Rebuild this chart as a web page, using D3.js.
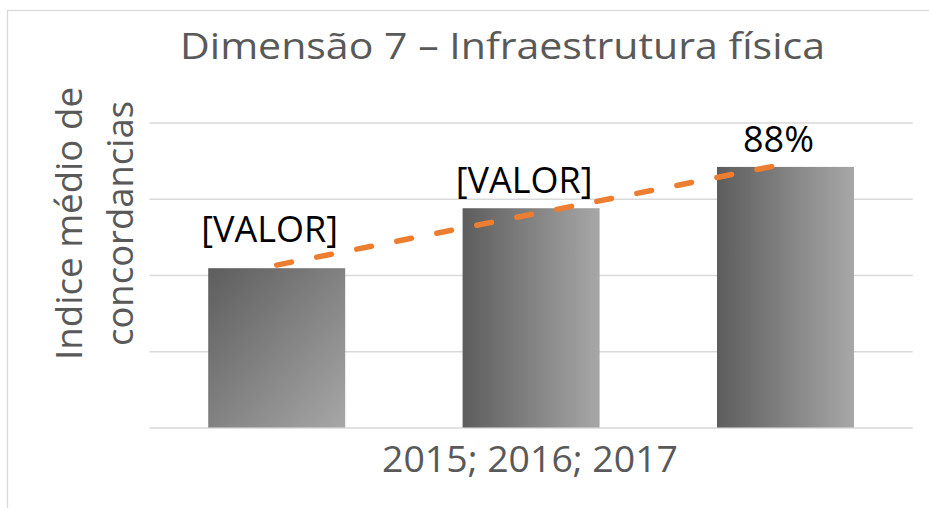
<!DOCTYPE html>
<html>
<head>
<meta charset="utf-8">
<script src="https://cdn.jsdelivr.net/npm/d3@7"></script>
<style>
  html, body { margin: 0; padding: 0; background: #fff; }
  svg { display: block; }
  text { font-family: "Open Sans", "Noto Sans", sans-serif; }
</style>
</head>
<body>
<svg id="chart" width="929" height="508"></svg>
<script>
// ---- data ----
const categories = ["2015", "2016", "2017"];
const values = [0.538, 0.7405, 0.88];
const valueLabels = ["[VALOR]", "[VALOR]", "88%"];
const gridTicks = [0, 0.2575, 0.515, 0.7725, 1.03];
const titleText = "Dimensão 7 – Infraestrutura física";
const yTitleLines = ["Indice médio de", "concordancias"];
const xTitleText = "2015; 2016; 2017";

// ---- styling / layout (not data) ----
const barFillStyles = ["diag", "horiz", "horiz"];
const labelGaps = [26.6, 15, 14.5];
const W = 929, H = 508;
const plot = { left: 149.5, right: 912.7, top: 122.5, bottom: 427.5 };
const gridColor = "#d9d9d9";
const textGray = "#595959";

const svg = d3.select("#chart");

// chart border
svg.append("rect")
  .attr("x", 7.5).attr("y", 10.5)
  .attr("width", W + 20).attr("height", H + 20)
  .attr("fill", "#fff").attr("stroke", gridColor).attr("stroke-width", 1.3);

// gradients
const defs = svg.append("defs");
const gDiag = defs.append("linearGradient").attr("id", "diag")
  .attr("x1", 0).attr("y1", 0).attr("x2", 1).attr("y2", 1);
gDiag.append("stop").attr("offset", 0).attr("stop-color", "#5d5d5d");
gDiag.append("stop").attr("offset", 1).attr("stop-color", "#a7a7a7");
const gH = defs.append("linearGradient").attr("id", "horiz")
  .attr("x1", 0).attr("y1", 0).attr("x2", 1).attr("y2", 0);
gH.append("stop").attr("offset", 0).attr("stop-color", "#5d5d5d");
gH.append("stop").attr("offset", 1).attr("stop-color", "#a7a7a7");

// scales
const x = d3.scaleBand()
  .domain(categories)
  .range([plot.left, plot.right])
  .paddingInner(0.4615)
  .paddingOuter(0.23075);
const y = d3.scaleLinear()
  .domain([gridTicks[0], gridTicks[gridTicks.length - 1]])
  .range([plot.bottom, plot.top]);

// gridlines via axis
const yAxis = d3.axisLeft(y)
  .tickValues(gridTicks)
  .tickSize(-(plot.right - plot.left))
  .tickFormat("");
const gy = svg.append("g")
  .attr("transform", `translate(${plot.left},0)`)
  .call(yAxis);
gy.select(".domain").remove();
gy.selectAll(".tick line")
  .attr("stroke", gridColor).attr("stroke-width", 1.4);

// bars
svg.append("g").selectAll("rect")
  .data(values)
  .join("rect")
  .attr("x", (d, i) => x(categories[i]))
  .attr("y", d => y(d))
  .attr("width", x.bandwidth())
  .attr("height", d => y(0) - y(d))
  .attr("fill", (d, i) => `url(#${barFillStyles[i]})`);

// trendline (linear regression over the series)
const n = values.length;
const xs = d3.range(n);
const mx = d3.mean(xs), my = d3.mean(values);
const slope = d3.sum(xs, (v, i) => (v - mx) * (values[i] - my)) / d3.sum(xs, v => (v - mx) ** 2);
const intercept = my - slope * mx;
const trend = xs.map(i => [x(categories[i]) + x.bandwidth() / 2, y(intercept + slope * i)]);
svg.append("path")
  .attr("d", d3.line()([trend[0], trend[n - 1]]))
  .attr("fill", "none")
  .attr("stroke", "#ED7D31")
  .attr("stroke-width", 5.5)
  .attr("stroke-linecap", "round")
  .attr("stroke-dasharray", "15 25.8");

// value labels
svg.append("g").selectAll("text")
  .data(values)
  .join("text")
  .attr("x", (d, i) => x(categories[i]) + x.bandwidth() / 2 - 7)
  .attr("y", (d, i) => y(d) - labelGaps[i])
  .attr("text-anchor", "middle")
  .attr("font-size", 36)
  .attr("fill", "#000")
  .text((d, i) => valueLabels[i]);

// title
svg.append("text")
  .attr("x", 502.5).attr("y", 59.3)
  .attr("text-anchor", "middle")
  .attr("font-size", 37)
  .attr("fill", textGray)
  .attr("textLength", 645).attr("lengthAdjust", "spacingAndGlyphs")
  .text(titleText);

// y-axis title (two lines)
const yTitleBaselines = [81.7, 133];
const yTitleLengths = [273, 245];
yTitleLines.forEach((line, i) => {
  svg.append("text")
    .attr("transform", `translate(${yTitleBaselines[i]},223.5) rotate(-90)`)
    .attr("text-anchor", "middle")
    .attr("font-size", 37)
    .attr("fill", textGray)
    .attr("textLength", yTitleLengths[i]).attr("lengthAdjust", "spacingAndGlyphs")
    .text(line);
});

// x-axis title
svg.append("text")
  .attr("x", 530).attr("y", 471.7)
  .attr("text-anchor", "middle")
  .attr("font-size", 37)
  .attr("fill", textGray)
  .attr("textLength", 296).attr("lengthAdjust", "spacingAndGlyphs")
  .text(xTitleText);
</script>
</body>
</html>
